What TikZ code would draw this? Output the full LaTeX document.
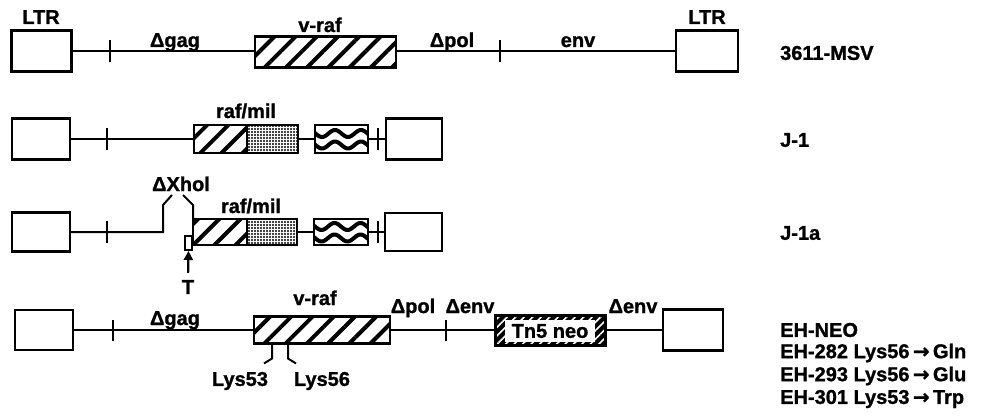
\documentclass[tikz,border=0pt]{standalone}
\usepackage{fontspec}
\setmainfont{Liberation Sans}[BoldFeatures={FakeBold=1.2}]
\newfontfamily\arrowfont{DejaVu Sans}[BoldFeatures={FakeBold=1.2}]
\usetikzlibrary{patterns,patterns.meta,arrows.meta}
\begin{document}
\begin{tikzpicture}[x=1pt,y=-1pt,
  font=\fontsize{20}{22}\selectfont\bfseries,
  ln/.style={line width=2pt},
  tickmark/.style={line width=2pt},
  box/.style={draw,line width=2.5pt,inner sep=0pt,outer sep=0pt,fill=white},
  hatch/.style={draw,line width=2.5pt,inner sep=0pt,outer sep=0pt,
    pattern={Lines[angle=45,distance=15pt,line width=4pt]}},
  dotbox/.style={draw,line width=2.5pt,inner sep=0pt,outer sep=0pt,
    pattern={Dots[distance=3pt,radius=1.05pt]}},
  wavebox/.style={draw,line width=2.5pt,inner sep=0pt,outer sep=0pt,fill=white,
    path picture={
      \begin{scope}[shift={(path picture bounding box.center)}]
        \draw[line width=4pt] plot[domain=-32:32,samples=65,smooth] (\x,{-5.5+3.5*sin(\x*360/26)});
        \draw[line width=4pt] plot[domain=-32:32,samples=65,smooth] (\x,{6+3.5*sin(\x*360/26)});
      \end{scope}}},
  lab/.style={inner sep=0pt,anchor=base},
  rowname/.style={inner sep=0pt,anchor=west},
]
\useasboundingbox (0,0) rectangle (988,417);

% ---------- Row 1: 3611-MSV ----------
\node[box,minimum width=60pt,minimum height=41pt] (L1) at (41.5,51) {};
\node[hatch,minimum width=141pt,minimum height=31pt] (vraf1) at (325.5,52) {};
\node[box,minimum width=62pt,minimum height=41pt] (R1) at (707,51) {};
\draw[ln] (L1.east) -- (L1.east -| vraf1.west);
\draw[ln] (vraf1.east |- R1.west) -- (R1.west);
\coordinate (t1a) at (110,51);
\coordinate (t1b) at (500,51);
\draw[tickmark] (t1a) ++(0,-11) -- ++(0,22);
\draw[tickmark] (t1b) ++(0,-11) -- ++(0,22);
\node[lab] (ltr1) at (41,24) {LTR};
\node[lab] (ltr2) at (707,24) {LTR};
\node[lab] (gag1) at (175,47) {Δgag};
\node[lab] (vrl1) at (320,32) {v-raf};
\node[lab] (pol1) at (452,47) {Δpol};
\node[lab] (env1) at (578,47) {env};
\node[rowname] (n1) at (780,53) {3611-MSV};

% ---------- Row 2: J-1 ----------
\node[box,minimum width=58pt,minimum height=41pt] (L2) at (41,139) {};
\node[hatch,minimum width=53pt,minimum height=28pt] (rm2a) at (220.5,139) {};
\node[dotbox,minimum width=51pt,minimum height=28pt] (rm2b) at (272.5,139) {};
\node[wavebox,minimum width=53pt,minimum height=28pt] (wv2) at (341.5,139) {};
\node[box,minimum width=56pt,minimum height=41pt] (R2) at (414,139) {};
\draw[ln] (L2.east) -- (rm2a.west);
\draw[ln] (rm2b.east) -- (wv2.west);
\draw[ln] (wv2.east) -- (R2.west);
\coordinate (t2a) at (107,139);
\coordinate (t2b) at (378,139);
\draw[tickmark] (t2a) ++(0,-11) -- ++(0,22);
\draw[tickmark] (t2b) ++(0,-11) -- ++(0,22);
\node[lab] (rml2) at (246,118) {raf/mil};
\node[rowname] (n2) at (780,140) {J-1};

% ---------- Row 3: J-1a ----------
\node[box,minimum width=58pt,minimum height=39pt] (L3) at (41,232) {};
\node[hatch,minimum width=54pt,minimum height=26pt] (rm3a) at (220,232) {};
\node[dotbox,minimum width=50pt,minimum height=26pt] (rm3b) at (272,232) {};
\node[wavebox,minimum width=54pt,minimum height=26pt] (wv3) at (341,232) {};
\node[box,minimum width=57pt,minimum height=38pt] (R3) at (413.5,232) {};
\coordinate (x1) at (163,232);
\coordinate (x2) at (163,205);
\coordinate (x3) at (172,195);
\coordinate (x4) at (183,195);
\coordinate (x5) at (193,205);
\draw[ln] (L3.east) -- (x1) -- (x2) -- (x3);
\draw[ln] (x4) -- (x5) -- (rm3a.north west);
\draw[ln] (rm3b.east) -- (wv3.west);
\draw[ln] (wv3.east) -- (R3.west);
\coordinate (t3a) at (107,232);
\coordinate (t3b) at (378,232);
\draw[tickmark] (t3a) ++(0,-11) -- ++(0,22);
\draw[tickmark] (t3b) ++(0,-11) -- ++(0,22);
\node[draw,line width=2pt,fill=white,inner sep=0pt,minimum width=7pt,minimum height=14pt] (trect) at (188.5,243) {};
\node[inner sep=0pt] (Tlab) at (188,287) {T};
\draw[line width=2.2pt,-{Triangle[width=9pt,length=9pt]},shorten <=7pt] (Tlab.north) -- (trect.south);
\node[lab] (xhol) at (181,191) {ΔXhol};
\node[lab] (rml3) at (251,213) {raf/mil};
\node[rowname] (n3) at (780,233) {J-1a};

% ---------- Row 4: EH-NEO ----------
\node[box,minimum width=58pt,minimum height=40pt] (L4) at (44,330) {};
\node[hatch,minimum width=136pt,minimum height=27pt] (vraf4) at (322,330) {};
\node[draw,line width=3pt,inner sep=0pt,outer sep=0pt,minimum width=110pt,minimum height=30pt,
  preaction={fill=black},pattern={Lines[angle=45,distance=6pt,line width=1.6pt]},pattern color=white] (tn5) at (550,330) {};
\node[fill=white,inner sep=0pt,minimum width=90pt,minimum height=22pt] (tn5t) at (550,331) {Tn5 neo};
\node[box,minimum width=60pt,minimum height=41pt] (R4) at (693,330) {};
\draw[ln] (L4.east) -- (vraf4.west);
\draw[ln] (vraf4.east) -- (tn5.west);
\draw[ln] (tn5.east) -- (R4.west);
\coordinate (t4a) at (113,330);
\coordinate (t4b) at (446,330);
\draw[tickmark] (t4a) ++(0,-10) -- ++(0,21);
\draw[tickmark] (t4b) ++(0,-10) -- ++(0,21);
\coordinate (k53) at (272,343.5);
\coordinate (k56) at (288,343.5);
\draw[ln] (k53) -- ++(0,15) -- ++(-8,5);
\draw[ln] (k56) -- ++(0,15) -- ++(8,5);
\node[inner sep=0pt] (lys53) at (240,381) {Lys53};
\node[inner sep=0pt] (lys56) at (322,381) {Lys56};
\node[lab] (gag4) at (175,325) {Δgag};
\node[lab] (vrl4) at (315,305) {v-raf};
\node[lab] (pol4) at (413,313) {Δpol};
\node[lab] (env4a) at (470,313) {Δenv};
\node[lab] (env4b) at (633,313) {Δenv};
\node[rowname] (n4a) at (780,330) {EH-NEO};
\node[rowname] (n4b) at (780,353) {EH-282 Lys56\,{\arrowfont\bfseries →}\,Gln};
\node[rowname] (n4c) at (780,376) {EH-293 Lys56\,{\arrowfont\bfseries →}\,Glu};
\node[rowname] (n4d) at (780,399) {EH-301 Lys53\,{\arrowfont\bfseries →}\,Trp};
\end{tikzpicture}
\end{document}
